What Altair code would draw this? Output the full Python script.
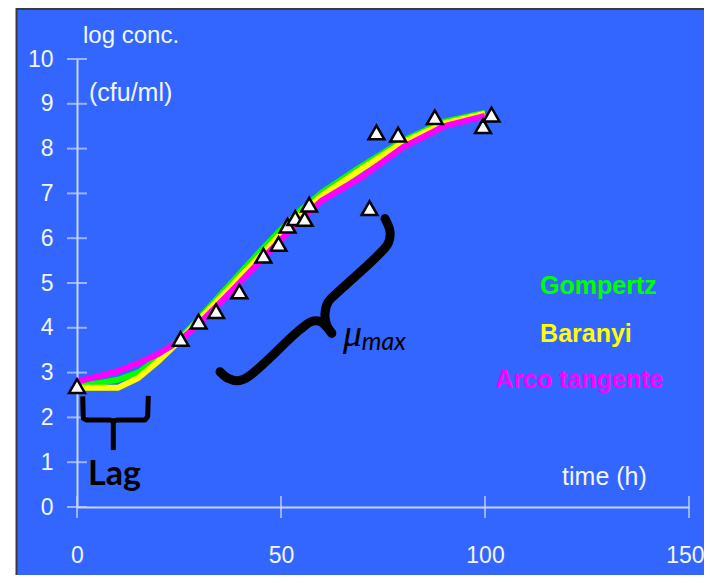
import altair as alt
import pandas as pd

# ---- data ----
t_model = [0, 5, 10, 15, 20, 25, 30, 35, 40, 45, 50, 55, 60, 70, 80, 90, 100]
gompertz = [2.72, 2.76, 2.84, 3.00, 3.32, 3.74, 4.22, 4.72, 5.22, 5.72, 6.19, 6.64, 7.02, 7.62, 8.18, 8.60, 8.80]
baranyi = [2.66, 2.66, 2.66, 2.88, 3.26, 3.70, 4.18, 4.66, 5.14, 5.62, 6.10, 6.55, 6.95, 7.56, 8.14, 8.56, 8.78]
arcotan = [2.80, 2.91, 3.03, 3.21, 3.42, 3.70, 4.10, 4.55, 5.02, 5.50, 5.97, 6.42, 6.84, 7.38, 8.04, 8.50, 8.73]

obs_time = [0, 25.4, 29.8, 34.1, 39.8, 45.7, 49.4, 51.6, 53.5, 55.8, 56.9, 71.7, 73.4, 78.7, 87.7, 99.5, 101.6]
obs_logc = [2.70, 3.75, 4.14, 4.37, 4.81, 5.61, 5.87, 6.28, 6.45, 6.43, 6.75, 6.67, 8.36, 8.31, 8.70, 8.50, 8.76]

y_ticks = list(range(11))
x_ticks = [0, 50, 100, 150]

# brace annotations (data coordinates)
mu_low_x = [35.05, 37.08, 39.53, 41.99, 54.66, 57.52, 59.56, 61.2, 62.43]
mu_low_y = [3.02, 2.87, 2.82, 2.91, 3.96, 4.14, 4.14, 4.02, 3.88]
mu_up_x = [62.43, 61.2, 60.78, 61.59, 63.65, 73.45, 76.3, 76.72, 75.49]
mu_up_y = [3.88, 4.06, 4.32, 4.58, 4.77, 5.59, 5.89, 6.15, 6.44]
lag_brace_x = [1.40, 1.54, 2.38, 8.09, 8.9, 9.73, 16.67, 17.33, 17.47]
lag_brace_y = [2.47, 1.98, 1.94, 1.94, 1.92, 1.94, 1.94, 2.02, 2.48]
lag_stem_x = [8.9, 8.9]
lag_stem_y = [1.94, 1.27]

BLUE = "#3366FF"
AXC = "#C8D4FF"
TXT = "#F4F6FF"
SANS = "Liberation Sans, Arial"

xs = alt.Scale(domain=[0, 150], nice=False, zero=False)
ys = alt.Scale(domain=[0, 10], nice=False, zero=False)
xax = alt.Axis(values=x_ticks, ticks=False, labelPadding=37, labelFontSize=23,
               labelFont=SANS, labelColor=TXT, domainColor=AXC, domainWidth=2,
               grid=False, title=None, labelFlush=False, labelOverlap=False,
               labelAlign={"condition": {"test": "datum.value == 150", "value": "right"}, "value": "center"},
               labelOffset={"condition": {"test": "datum.value == 150", "value": 15}, "value": 0})
yax = alt.Axis(values=y_ticks, ticks=False, labelPadding=24, labelFontSize=23,
               labelFont=SANS, labelColor=TXT, domainColor=AXC, domainWidth=2,
               grid=False, title=None, labelOverlap=False)


def X(f):
    return alt.X(f, type="quantitative", scale=xs, axis=xax)


def Y(f):
    return alt.Y(f, type="quantitative", scale=ys, axis=yax)


one = pd.DataFrame({"a": [0]})
# frame decoration (white strip left of the blue panel + dark border)
frame = alt.Chart(one).mark_rect(color="white").encode(
    x=alt.value(-69), x2=alt.value(-61), y=alt.value(-51), y2=alt.value(516))
border_l = alt.Chart(one).mark_rule(color="#3a3a3a", strokeWidth=2).encode(
    x=alt.value(-60.5), y=alt.value(-51), y2=alt.value(516))
border_t = alt.Chart(one).mark_rule(color="#3a3a3a", strokeWidth=2).encode(
    x=alt.value(-61), x2=alt.value(627), y=alt.value(-50))

ytick_df = pd.DataFrame({"t": [0] * len(y_ticks), "v": y_ticks})
xtick_df = pd.DataFrame({"t": x_ticks, "v": [0] * len(x_ticks)})
yticks = alt.Chart(ytick_df).mark_tick(orient="horizontal", size=20, thickness=2, color=AXC).encode(
    x=X("t"), y=Y("v"))
xticks = alt.Chart(xtick_df).mark_tick(orient="vertical", size=22, thickness=2, color=AXC).encode(
    x=X("t"), y=Y("v"))


def model_line(vals, color):
    df = pd.DataFrame({"t": t_model, "v": vals})
    return alt.Chart(df).mark_line(color=color, strokeWidth=6, strokeJoin="round").encode(
        x=X("t"), y=Y("v"))


lg = model_line(gompertz, "#00FF00")
lb = model_line(baranyi, "#FFFF00")
la = model_line(arcotan, "#FF00FF")

pts = alt.Chart(pd.DataFrame({"t": obs_time, "v": obs_logc})).mark_point(
    shape="triangle-up", filled=True, fill="white", stroke="black", strokeWidth=2.5,
    size=250, opacity=1).encode(x=X("t"), y=Y("v"))


def path(bx, by, w, interp="linear", cap="round"):
    df = pd.DataFrame({"t": bx, "v": by, "i": list(range(len(bx)))})
    return alt.Chart(df).mark_line(color="black", strokeWidth=w, strokeCap=cap,
                                   strokeJoin="round", interpolate=interp).encode(
        x=X("t"), y=Y("v"), order="i:Q")


mu_low = path(mu_low_x, mu_low_y, 9, "catmull-rom")
mu_up = path(mu_up_x, mu_up_y, 9, "catmull-rom")
lag_brace = path(lag_brace_x, lag_brace_y, 5, "linear", "butt")
lag_stem = path(lag_stem_x, lag_stem_y, 5, "linear", "butt")


def label(txt, x, y, size, color, font, weight="normal", style="normal", align="left"):
    df = pd.DataFrame({"t": [x], "v": [y], "s": [txt]})
    return alt.Chart(df).mark_text(align=align, baseline="alphabetic", fontSize=size, color=color,
                                   font=font, fontWeight=weight, fontStyle=style).encode(
        x=X("t"), y=Y("v"), text="s:N")


texts = [
    label("log conc.", 1.47, 10.36, 24, TXT, SANS),
    label("(cfu/ml)", 2.94, 9.06, 25, TXT, SANS),
    label("time (h)", 118.9, 0.49, 25, TXT, SANS),
    label("Gompertz", 113.5, 4.75, 25, "#00FF00", SANS, weight="bold"),
    label("Baranyi", 113.5, 3.68, 25, "#FFFF00", SANS, weight="bold"),
    label("Arco tangente", 102.5, 2.66, 25, "#FF00FF", SANS, weight="bold"),
    label("Lag", 2.7, 0.49, 34, "black", "Lato, Open Sans", weight="bold"),
    label("μ", 65.2, 3.6, 38, "black", "Liberation Serif, DejaVu Serif", style="italic"),
    label("max", 69.8, 3.5, 25, "black", "Lato, Open Sans", style="italic"),
]

chart = alt.layer(
    frame, border_l, border_t, yticks, xticks, lg, lb, la, mu_low, mu_up, lag_brace, lag_stem, pts, *texts
).properties(
    width=612, height=448,
    background=BLUE,
    padding={"left": 69, "top": 51, "right": 15, "bottom": 68},
    autosize=alt.AutoSizeParams(type="none"),
).configure_view(stroke=None)

chart.save("out.html", embed_options={"renderer": "svg", "actions": False})
